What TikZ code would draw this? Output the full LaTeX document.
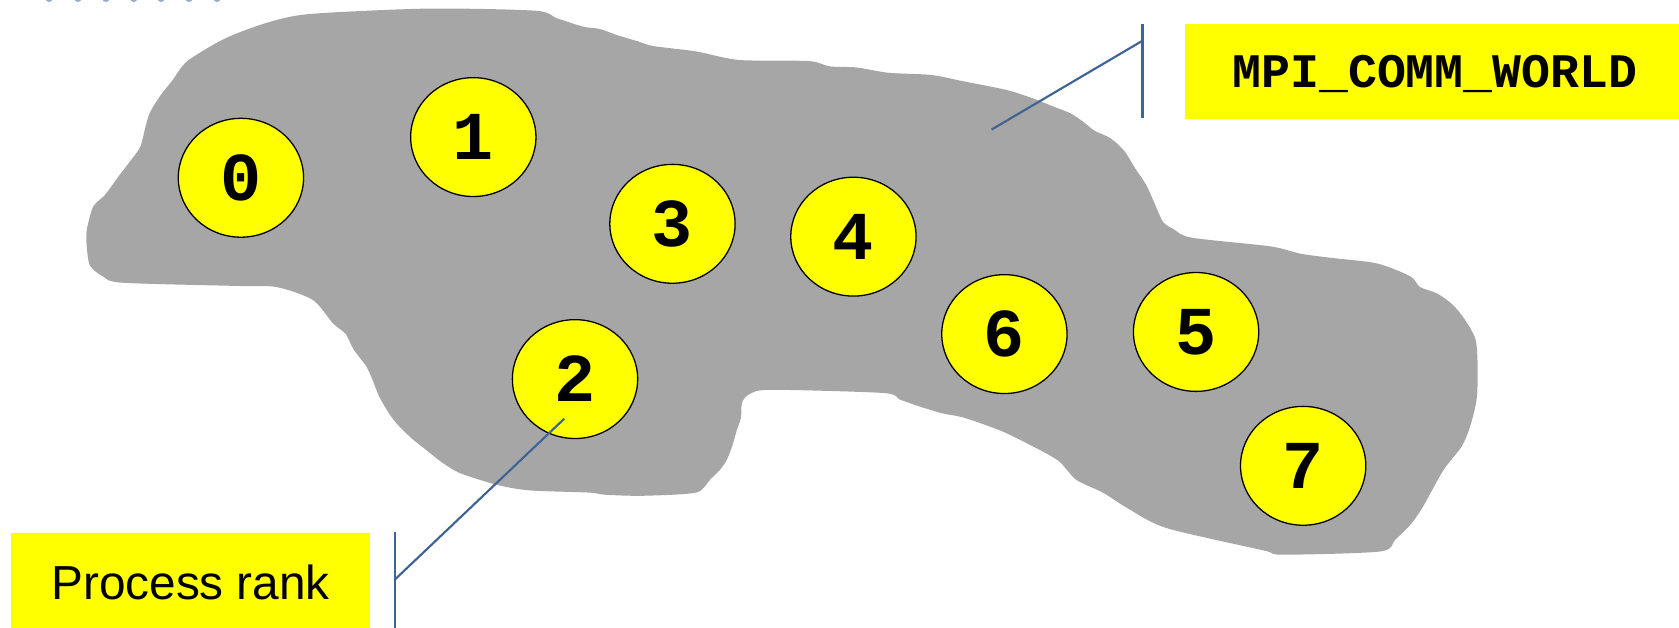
\documentclass[tikz,border=0pt]{standalone}
\usepackage{fontspec}
\usetikzlibrary{shapes.geometric}
\newfontfamily\codefont{Liberation Mono}
\newfontfamily\labelfont{Liberation Sans}
\definecolor{blobgrey}{RGB}{166,166,166}
\definecolor{hiyellow}{RGB}{255,255,0}
\definecolor{callline}{RGB}{62,100,148}
\definecolor{dotblue}{RGB}{150,172,204}
\tikzset{
  rank/.style={shape=ellipse, draw=black, line width=0.6pt, fill=hiyellow,
    minimum width=58.5pt, minimum height=55.5pt, inner sep=0pt,
    font=\codefont\bfseries\fontsize{32}{32}\selectfont},
  tagbox/.style={fill=hiyellow, inner sep=0pt, anchor=north west},
  callout/.style={draw=callline, line width=1pt},
}
\begin{document}
\begin{tikzpicture}[x=0.5pt, y=-0.5pt]
\useasboundingbox (0,0) rectangle (1568,586);
\clip (0,0) rectangle (1568,586);

% tiny dots along the top edge
\foreach \dx in {45.8,72.8,99,125,150.4,176.5,202.7}
  \fill[dotblue] (\dx,-1.5) ellipse [x radius=3.4, y radius=3.4];

% the communicator region
\fill[blobgrey] plot[smooth cycle, tension=0.45] coordinates {
  (161,75) (175,57) (210,36) (250,21) (290,13) (400,8) (500,10) (520,17)
  (545,25) (560,27) (577,33) (597,39) (610,43) (650,48) (690,56) (755,57)
  (775,62) (800,63) (830,68) (870,70) (900,76) (940,84) (965,92) (985,100)
  (1000,106) (1012,114) (1022,122) (1037,129) (1050,141) (1060,157)
  (1070,172) (1077,187) (1086,207) (1096,214) (1113,222) (1186,230)
  (1215,237) (1245,241) (1286,246) (1317,258) (1326,268) (1342,274)
  (1356,284) (1367,297) (1378,317) (1380,345) (1379,373) (1373,398)
  (1365,417) (1348,439) (1329,473) (1318,489) (1303,504) (1289,515)
  (1198,518) (1180,514) (1089,493) (1052,474) (1030,460) (1005,448)
  (988,430) (959,414) (934,402) (900,390) (880,386) (860,380) (840,373)
  (825,367) (720,364) (700,368) (693,376) (692,390) (688,402) (684,416)
  (679,429) (673,438) (663,448) (650,460) (600,463) (565,462) (550,460)
  (495,458) (465,453) (430,442) (413,432) (399,421) (384,409) (370,395)
  (362,384) (354,370) (348,355) (342,342) (330,326) (323,312) (311,302)
  (292,280) (258,268) (220,267) (114,264) (96,258) (84,248) (81,230)
  (81,215) (87,193) (98,182) (112,163) (122,150) (131,137) (136,118)
  (140,105) (150,89)
};

% process ranks
\node[rank] (r0) at (225,166) {0};
\node[rank] (r1) at (442,128) {1};
\node[rank] (r3) at (628,209) {3};
\node[rank] (r4) at (797,221) {4};
\node[rank] (r6) at (938,312) {6};
\node[rank] (r5) at (1117,310) {5};
\node[rank] (r2) at (537,354) {2};
\node[rank] (r7) at (1217,435) {7};

% communicator tag
\node[tagbox, minimum width=231pt, minimum height=44.5pt] (mpibox) at (1106,22) {};
\node[anchor=base, font=\codefont\bfseries\fontsize{22.5}{22.5}\selectfont]
  (mpitext) at (1340,81.5) {MPI\_COMM\_WORLD};
\coordinate (mpiTop) at (1067,22);
\coordinate (mpiBottom) at (1067,110);
\coordinate (mpiElbow) at (1067,38);
\coordinate (mpiTip) at (926,121);
\draw[callout] (mpiTop) -- (mpiBottom);
\draw[callout] (mpiElbow) -- (mpiTip);

% rank tag
\node[tagbox, minimum width=167.5pt, minimum height=50pt] (rankbox) at (10,497) {};
\node[anchor=base, font=\labelfont\fontsize{22.3}{22.3}\selectfont]
  (ranktext) at (178,559.5) {Process rank};
\coordinate (rankTop) at (369,497);
\coordinate (rankBottom) at (369,590);
\coordinate (rankElbow) at (369,541);
\coordinate (rankTip) at (527,391);
\draw[callout] (rankTop) -- (rankBottom);
\draw[callout] (rankElbow) -- (rankTip);
\end{tikzpicture}
\end{document}
